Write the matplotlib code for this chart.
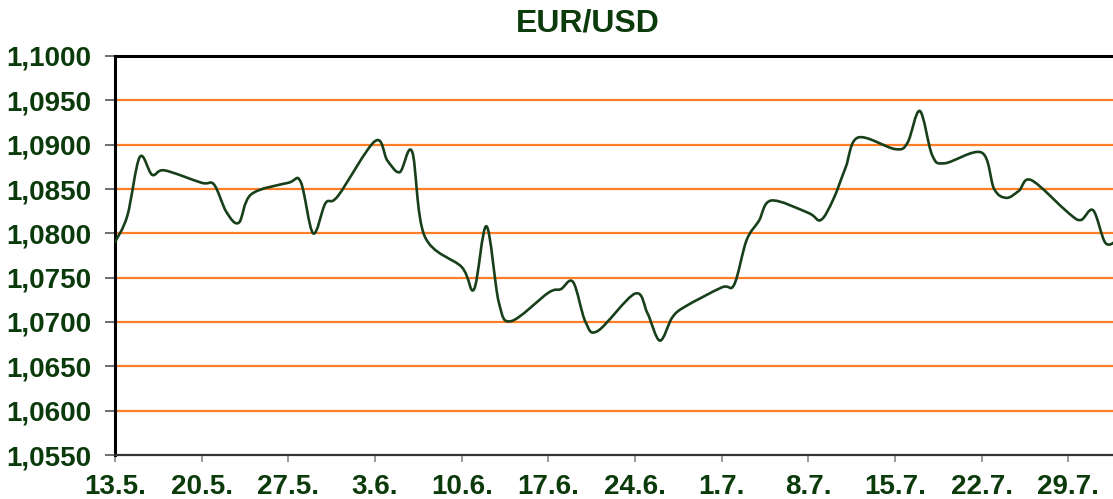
import numpy as np
import pandas as pd
import matplotlib
matplotlib.use("Agg")
import matplotlib.pyplot as plt
from matplotlib.path import Path
from matplotlib.patches import PathPatch
from matplotlib.ticker import FuncFormatter

# daily fixings, business days 13.5. - 2.8.
dates = pd.bdate_range("2024-05-13", "2024-08-02")
rates = [
    1.0790, 1.0820, 1.0886, 1.0866, 1.0871,
    1.0857, 1.0855, 1.0824, 1.0812, 1.0844,
    1.0857, 1.0858, 1.0800, 1.0834, 1.0842,
    1.0904, 1.0882, 1.0869, 1.0892, 1.0797,
    1.0762, 1.0737, 1.0808, 1.0722, 1.0701,
    1.0733, 1.0737, 1.0745, 1.0700, 1.0690,
    1.0732, 1.0710, 1.0679, 1.0705, 1.0717,
    1.0739, 1.0742, 1.0792, 1.0814, 1.0837,
    1.0823, 1.0815, 1.0838, 1.0874, 1.0908,
    1.0895, 1.0902, 1.0938, 1.0888, 1.0879,
    1.0891, 1.0850, 1.0840, 1.0848, 1.0860,
    1.0823, 1.0815, 1.0826, 1.0789, 1.0793,
]
tick_dates = pd.date_range("2024-05-13", "2024-07-29", freq="7D")
y_ticks = [1.0550, 1.0600, 1.0650, 1.0700, 1.0750, 1.0800,
           1.0850, 1.0900, 1.0950, 1.1000]

text_col = "#0b3a0b"
line_col = "#17401a"
grid_col = "#ff7f27"

plt.rcParams["font.family"] = ["Liberation Sans", "DejaVu Sans"]
plt.rcParams["font.weight"] = "bold"

fig = plt.figure(figsize=(11.13, 4.99), dpi=100)
ax = fig.add_axes([115 / 1113, 1 - 455 / 499, 1 - 115 / 1113, 399 / 499])

x = np.array((dates - dates[0]).days, dtype=float)
y = np.array(rates)

# smoothed line like the spreadsheet one (cubic bezier segments)
pts = np.column_stack([x, y])
ext = np.vstack([pts[0], pts, pts[-1]])
verts = [tuple(pts[0])]
codes = [Path.MOVETO]
for i in range(len(pts) - 1):
    p0, p1, p2, p3 = ext[i], ext[i + 1], ext[i + 2], ext[i + 3]
    c1 = p1 + (p2 - p0) / 6
    c2 = p2 - (p3 - p1) / 6
    verts += [tuple(c1), tuple(c2), tuple(p2)]
    codes += [Path.CURVE4] * 3
ax.add_patch(PathPatch(Path(verts, codes), fill=False, edgecolor=line_col,
                       lw=1.9, zorder=3, capstyle="round", joinstyle="round"))

for v in y_ticks[1:-1]:
    ax.axhline(v, color=grid_col, lw=1.6, zorder=1)

ax.set_ylim(1.0550, 1.1000)
ax.set_xlim(0, 80.6)
ax.set_yticks(y_ticks)
ax.yaxis.set_major_formatter(FuncFormatter(lambda v, p: f"{v:.4f}".replace(".", ",")))
tx = (tick_dates - dates[0]).days
ax.set_xticks(tx)
ax.set_xticklabels([f"{d.day}.{d.month}." for d in tick_dates])

ax.tick_params(axis="y", length=7, width=1.2, color="#555555", pad=10,
               labelsize=20, labelcolor=text_col)
ax.tick_params(axis="x", length=5, width=1.2, color="#888888", pad=9,
               labelsize=20, labelcolor=text_col)
for lab in ax.get_xticklabels() + ax.get_yticklabels():
    lab.set_fontweight("bold")

for s in ["left", "top"]:
    ax.spines[s].set_linewidth(2.2)
    ax.spines[s].set_color("black")
ax.spines["bottom"].set_linewidth(1.6)
ax.spines["bottom"].set_color("#333333")
ax.spines["right"].set_visible(False)

fig.text(588 / 1113, 1 - 24 / 499, "EUR/USD", ha="center", va="center",
         fontsize=23, fontweight="bold", color=text_col)

fig.savefig("out.png", dpi=100)
